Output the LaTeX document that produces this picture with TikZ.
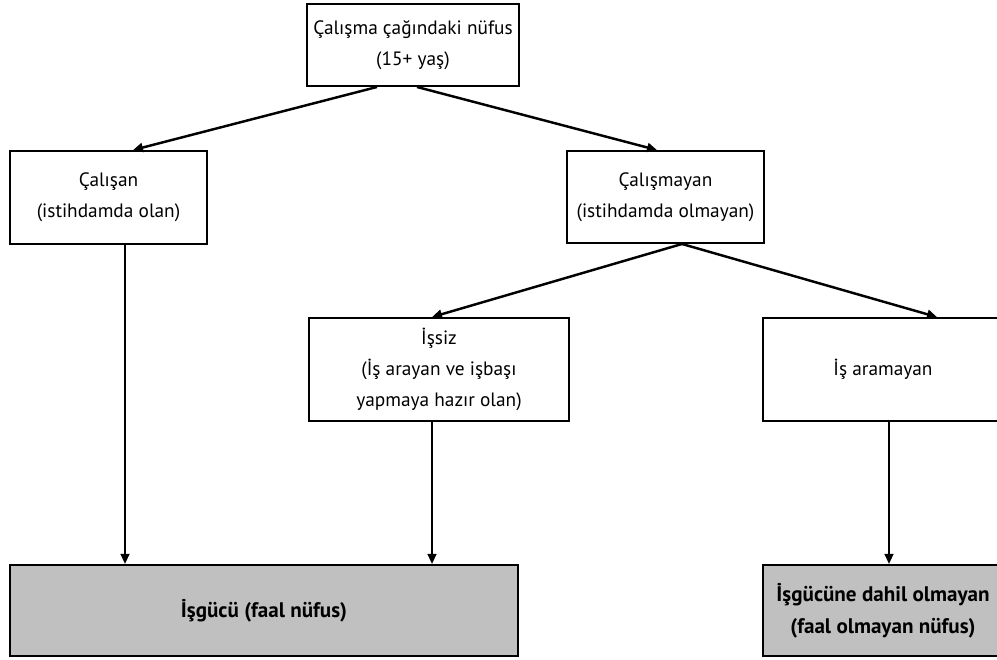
\documentclass[tikz,border=0pt]{standalone}
\usepackage{fontspec}
\setmainfont{PT Sans}
\usepackage{xcolor}
\definecolor{boxgray}{RGB}{192,192,192}
\usetikzlibrary{arrows.meta,positioning,calc}

\begin{document}
\begin{tikzpicture}[
    box/.style={rectangle, draw=black, line width=1.1pt, fill=white,
                align=center, font=\fontsize{11}{17.5}\selectfont},
    sumbox/.style={rectangle, draw=black, line width=1.3pt, fill=boxgray,
                   align=center, font=\fontsize{12}{18}\selectfont\bfseries},
    arr/.style={-{Triangle[length=0.2cm,width=0.18cm]}, line width=1.4pt},
    varr/.style={-{Triangle[length=0.2cm,width=0.18cm]}, line width=0.8pt}
  ]
    \useasboundingbox (0,0) rectangle (19.94,-13.18);
    \clip (0,0) rectangle (19.94,-13.18);

    % Top level
    \node[box, minimum width=4.16cm, minimum height=1.64cm] (pop) at (8.26,-0.90)
      {Çalışma çağındaki nüfus\\(15+ yaş)};

    % Second level
    \node[box, minimum width=3.94cm, minimum height=1.86cm] (calisan) at (2.17,-3.95)
      {Çalışan\\(istihdamda olan)};
    \node[box, minimum width=3.94cm, minimum height=1.84cm] (calismayan) at (13.31,-3.94)
      {Çalışmayan\\(istihdamda olmayan)};

    % Third level
    \node[box, minimum width=5.2cm, minimum height=2.06cm] (issiz) at (8.78,-7.39)
      {İşsiz\\(İş arayan ve işbaşı\\yapmaya hazır olan)};
    \node[box, minimum width=4.8cm, minimum height=2.06cm] (aramayan) at (17.66,-7.39)
      {İş aramayan};

    % Bottom level
    \node[sumbox, minimum width=10.16cm, minimum height=1.82cm] (isgucu) at (5.28,-12.21)
      {İşgücü (faal nüfus)};
    \node[sumbox, minimum width=4.8cm, minimum height=1.82cm] (dahil) at (17.66,-12.21)
      {İşgücüne dahil olmayan\\(faal olmayan nüfus)};

    % Diagonal arrows
    \draw[arr] ($(pop.south)+(-0.72,0)$) -- ($(calisan.north)+(0.49,0)$);
    \draw[arr] ($(pop.south)+(0.08,0)$) -- ($(calismayan.north)+(-0.17,0)$);
    \draw[arr] ($(calismayan.south)+(0.33,0)$) -- ($(issiz.north)+(-0.14,0)$);
    \draw[arr] ($(calismayan.south)+(0.33,0)$) -- ($(aramayan.north)+(1.08,0)$);

    % Vertical arrows
    \coordinate (v1) at ($(calisan.south)+(0.33,0)$);
    \coordinate (v2) at ($(issiz.south)+(-0.14,0)$);
    \coordinate (v3) at ($(aramayan.south)+(0.12,0)$);
    \draw[varr] (v1) -- (v1 |- isgucu.north);
    \draw[varr] (v2) -- (v2 |- isgucu.north);
    \draw[varr] (v3) -- (v3 |- dahil.north);
  \end{tikzpicture}
\end{document}
